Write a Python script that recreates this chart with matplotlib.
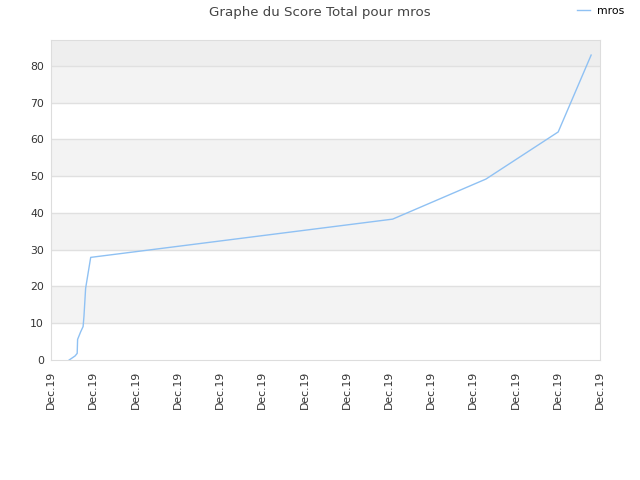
import matplotlib
matplotlib.use("Agg")
import matplotlib.pyplot as plt

# position along the time axis (tick index units) and total score
x_pos = [0.43, 0.57, 0.62, 0.63, 0.70, 0.76, 0.78, 0.82, 0.94, 8.09, 10.30, 12.01, 12.79]
score = [0.0, 1.1, 1.8, 5.6, 7.6, 9.1, 11.8, 19.5, 27.9, 38.3, 49.2, 62.0, 82.9]
tick_labels = ["Dec.19"] * 14
y_ticks = [0, 10, 20, 30, 40, 50, 60, 70, 80]

fig = plt.figure(figsize=(6.4, 4.8), dpi=100)
ax = fig.add_axes([51/640, 1 - 360/480, 549/640, 320/480])

ymax = 87
ax.set_xlim(0, 13)
ax.set_ylim(0, ymax)

# alternating bands
for i, lo in enumerate(y_ticks):
    hi = lo + 10 if lo < 80 else ymax
    if lo == 80:
        c = "#eeeeee"
    elif (lo // 10) % 2 == 1:
        c = "#f3f3f3"
    else:
        c = "#ffffff"
    ax.axhspan(lo, hi, color=c, zorder=0, lw=0)
for t in y_ticks[1:]:
    ax.axhline(t, color="#e0e0e0", lw=1, zorder=1)

ax.plot(x_pos, score, color="#8fc1f3", lw=1, label="mros", zorder=3)

ax.set_xticks(range(14))
ax.set_xticklabels(tick_labels, rotation=90, fontsize=7.8, color="#333333")
ax.set_yticks(y_ticks)
ax.set_yticklabels([str(v) for v in y_ticks], fontsize=7.8, color="#333333")
ax.tick_params(axis="x", length=0, pad=8)
ax.tick_params(axis="y", length=0, pad=5)
for s in ax.spines.values():
    s.set_color("#dddddd")

fig.suptitle("Graphe du Score Total pour mros", fontsize=9.6, color="#444444", y=0.988)
fig.legend(loc="upper right", bbox_to_anchor=(0.99, 1.008), frameon=False, fontsize=7.8,
           handlelength=1.2, handletextpad=0.6)

fig.savefig("out.png", dpi=100)
